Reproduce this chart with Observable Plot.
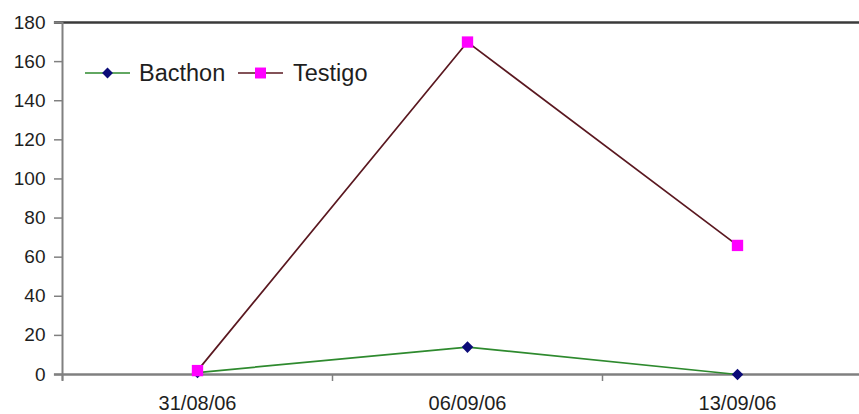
<!DOCTYPE html>
<html>
<head>
<meta charset="utf-8">
<script src="https://cdn.jsdelivr.net/npm/d3@7"></script>
<script src="https://cdn.jsdelivr.net/npm/@observablehq/plot@0.6"></script>
<style>
  html, body { margin: 0; padding: 0; background: #fff; overflow: hidden; }
  svg { display: block; }
</style>
</head>
<body>
<div id="chart"></div>
<script>
const categories = ["31/08/06", "06/09/06", "13/09/06"];
const bacthon = [1, 14, 0];
const testigo = [2, 170, 66];
const yTicks = [0, 20, 40, 60, 80, 100, 120, 140, 160, 180];
const seriesNames = ["Bacthon", "Testigo"];
const lineColors = ["#2e8a2e", "#5a1820"];
const markerColors = ["#0b0b78", "#ff00ff"];

const rows = [];
categories.forEach((c, i) => {
  rows.push({i, series: "Bacthon", v: bacthon[i]});
  rows.push({i, series: "Testigo", v: testigo[i]});
});
const idx = categories.map((_, i) => i);
const bounds = [-0.5, 0.5, 1.5];

const font = "Arial, 'Liberation Sans', sans-serif";

const chart = Plot.plot({
  width: 859,
  height: 414,
  marginLeft: 62,
  marginRight: -13,
  marginTop: 22,
  marginBottom: 40,
  style: {fontFamily: font, color: "#1e1e1e", background: "#fff"},
  x: {type: "linear", domain: [-0.5, 2.5], label: null},
  y: {domain: [0, 180], label: null},
  marks: [
    Plot.ruleY([180], {stroke: "#3a3a3a", strokeWidth: 2.5, x1: -0.53, x2: 2.5}),
    Plot.ruleX([-0.5], {stroke: "#808080", strokeWidth: 2, y1: -3.5, y2: 180}),
    Plot.axisY({ticks: yTicks, tickSize: 8, tickPadding: 9, fontSize: 19, stroke: "#808080", strokeWidth: 1.5, fill: "#1e1e1e", label: null}),
    Plot.axisX({ticks: bounds, tickSize: 7, tickFormat: () => "", stroke: "#808080", strokeWidth: 1.5, label: null}),
    Plot.axisX({ticks: idx, tickSize: 0, tickPadding: 21, fontSize: 20, fill: "#1e1e1e", tickFormat: i => categories[i], style: "letter-spacing:0.3px", label: null}),
    Plot.ruleY([0], {stroke: "#808080", strokeWidth: 2.5, x1: -0.53, x2: 2.5}),
    Plot.line(rows.filter(d => d.series === "Bacthon"), {x: "i", y: "v", stroke: lineColors[0], strokeWidth: 1.7}),
    Plot.line(rows.filter(d => d.series === "Testigo"), {x: "i", y: "v", stroke: lineColors[1], strokeWidth: 1.7}),
    Plot.dot(rows.filter(d => d.series === "Bacthon"), {x: "i", y: "v", symbol: "diamond2", r: 5.2, fill: markerColors[0], stroke: "none"}),
    Plot.dot(rows.filter(d => d.series === "Testigo"), {x: "i", y: "v", symbol: "square", r: 6.4, fill: markerColors[1], stroke: "none"})
  ]
});

document.getElementById("chart").appendChild(chart);

// Legend inside the plot area (top-left)
const svg = d3.select(chart);
const lg = svg.append("g").attr("font-family", font).attr("font-size", 23.5).attr("fill", "#1e1e1e")
  .attr("text-anchor", "start");
const items = [
  {name: seriesNames[0], x0: 85, textX: 139, sym: d3.symbolDiamond2, size: 75},
  {name: seriesNames[1], x0: 238, textX: 293, sym: d3.symbolSquare, size: 120}
];
const ly = 73;
items.forEach((it, k) => {
  lg.append("line").attr("x1", it.x0).attr("x2", it.x0 + 45).attr("y1", ly).attr("y2", ly)
    .attr("stroke", lineColors[k]).attr("stroke-width", 1.7);
  lg.append("path").attr("d", d3.symbol(it.sym, it.size)())
    .attr("transform", `translate(${it.x0 + 22.5},${ly})`).attr("fill", markerColors[k]);
  lg.append("text").attr("x", it.textX).attr("y", ly + 8).attr("text-anchor", "start").text(it.name);
});
</script>
</body>
</html>
